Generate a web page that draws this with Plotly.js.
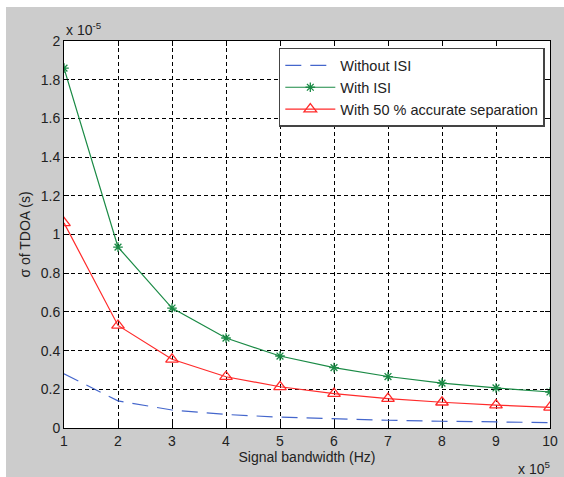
<!DOCTYPE html>
<html><head><meta charset="utf-8">
<script src="https://cdn.plot.ly/plotly-3.0.1.min.js"></script>
<style>
html,body{margin:0;padding:0;background:#ffffff;width:564px;height:477px;overflow:hidden}
#chart{position:absolute;left:6px;top:7px;width:558px;height:470px}
</style></head>
<body><div id="chart"></div>
<script>
const bandwidth = [1,2,3,4,5,6,7,8,9,10];
const withoutISI = [0.28,0.14,0.093,0.070,0.056,0.047,0.040,0.035,0.031,0.028];
const withISI = [1.86,0.935,0.62,0.465,0.372,0.312,0.266,0.232,0.207,0.186];
const withSep = [1.06,0.53,0.355,0.265,0.213,0.178,0.152,0.133,0.118,0.107];
const names = ["Without ISI","With ISI","With 50 % accurate separation"];
const xTicks = [1,2,3,4,5,6,7,8,9,10];
const yTicks = [0,0.2,0.4,0.6,0.8,1,1.2,1.4,1.6,1.8,2];

const F = "Arial, Liberation Sans";
const traces = [
 {x:bandwidth,y:withoutISI,name:names[0],mode:"lines",line:{color:"#4466cc",width:1.2,dash:"16px,9px"}},
 {x:bandwidth,y:withISI,name:names[1],mode:"lines+markers",line:{color:"#1a8a45",width:1.2},
  marker:{symbol:"asterisk-open",size:8,color:"#1a8a45",line:{color:"#1a8a45",width:1.3}}},
 {x:bandwidth,y:withSep,name:names[2],mode:"lines+markers",line:{color:"#ff2a2a",width:1.2},
  marker:{symbol:"triangle-up-open",size:11,color:"#ff2a2a",line:{color:"#ff2a2a",width:1.3}}}
];
const axisCommon = {showline:true,linecolor:"#000",linewidth:1,mirror:"allticks",ticks:"inside",ticklen:5,
  tickcolor:"#000",showgrid:true,gridcolor:"#000",gridwidth:1,griddash:"4px,3px",zeroline:false,
  tickfont:{family:F,size:14,color:"#222"}};
const layout = {
 width:558,height:470,
 paper_bgcolor:"#cccccc",plot_bgcolor:"#ffffff",
 margin:{l:58,r:14,t:34,b:49},
 showlegend:true,
 legend:{x:0.442,y:0.982,xanchor:"left",yanchor:"top",bgcolor:"#ffffff",bordercolor:"#444",borderwidth:1.5,
  font:{family:F,size:14.5,color:"#222"},tracegroupgap:0,itemwidth:50},
 xaxis:Object.assign({},axisCommon,{range:[1,10],tickvals:xTicks,ticktext:xTicks.map(String),
  title:{text:"Signal bandwidth (Hz)",font:{family:F,size:14,color:"#222"},standoff:4}}),
 yaxis:Object.assign({},axisCommon,{range:[0,2],tickvals:yTicks,ticktext:yTicks.map(String),
  title:{text:"σ of TDOA (s)",font:{family:F,size:14,color:"#222"},standoff:6}}),
 annotations:[
  {xref:"paper",yref:"paper",x:0,y:1,xanchor:"left",yanchor:"bottom",yshift:1,showarrow:false,
   text:"x 10<sup>-5</sup>",font:{family:F,size:14,color:"#222"}},
  {xref:"paper",yref:"paper",x:1,y:0,xanchor:"right",yanchor:"top",yshift:-29,xshift:2,showarrow:false,
   text:"x 10<sup>5</sup>",font:{family:F,size:14,color:"#222"}}
 ]
};
Plotly.newPlot("chart",traces,layout,{displayModeBar:false,staticPlot:true});
</script></body></html>
